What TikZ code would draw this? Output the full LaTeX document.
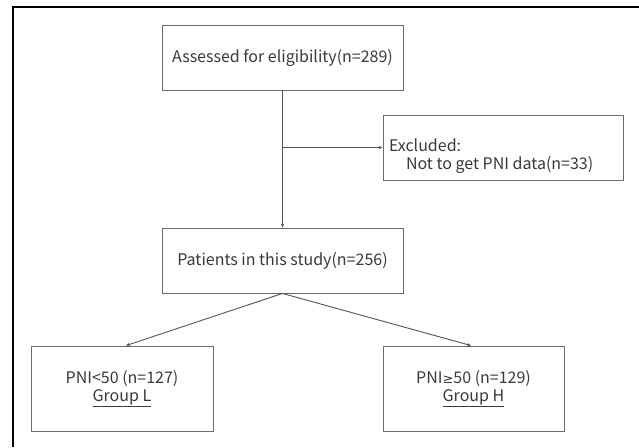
\documentclass[tikz,border=0pt]{standalone}
\usepackage{fontspec}
\setmainfont{Noto Sans CJK JP}
\newfontfamily\symfont{DejaVu Sans}
\usetikzlibrary{arrows.meta}
\definecolor{txt}{HTML}{3A3A3A}
\definecolor{edge}{HTML}{6A6A6A}
\definecolor{conn}{HTML}{555555}
\tikzset{
  box/.style={draw=edge, line width=0.9pt, text=txt, inner sep=0pt, align=center,
              font=\fontsize{16}{19}\selectfont},
  conn/.style={draw=conn, line width=0.9pt, -{Stealth[length=4pt,width=3.2pt]}},
  frame/.style={draw=black, line width=2pt}
}
\begin{document}
\begin{tikzpicture}[x=1pt,y=-1pt]
  \useasboundingbox (0,0) rectangle (639,447);
  \fill[white] (0,0) rectangle (639,447);
  % outer frame (top and left edges)
  \coordinate (fa) at (639,6.5);
  \coordinate (fb) at (12.5,6.5);
  \coordinate (fc) at (12.5,447);
  \draw[frame] (fa) -- (fb) -- (fc);

  \node[box, minimum width=241pt, minimum height=65pt] (assess) at (282.5,57.5)
    {Assessed for eligibility(n=289)};
  \node[box, minimum width=241pt, minimum height=65pt] (study) at (282.5,260.5)
    {Patients in this study(n=256)};
  \node[box, minimum width=240pt, minimum height=65pt] (excl) at (503,147.5)
    {\raisebox{-9pt}[\height][\depth]{\makebox[228pt][l]{\begin{tabular}{@{}l@{}}Excluded:\\[-1pt]\hspace{17pt}Not to get PNI data(n=33)\end{tabular}}}};
  \node[box, minimum width=182pt, minimum height=85pt] (grpL) at (122,388.5)
    {PNI\textless50 (n=127)\\[-1pt]\underline{Group L}};
  \node[box, minimum width=181pt, minimum height=85pt] (grpH) at (473.5,388.5)
    {PNI{\symfont\fontsize{13}{19}\selectfont ≥}50 (n=129)\\[-1pt]\underline{Group H}};

  \coordinate (branch) at (assess.south |- excl.west);
  \draw[conn] (assess.south) -- (study.north);
  \draw[conn] (branch) -- (excl.west);
  \draw[conn] (study.south) -- ([xshift=4pt]grpL.north);
  \draw[conn] (study.south) -- ([xshift=-2.5pt]grpH.north);
\end{tikzpicture}
\end{document}
